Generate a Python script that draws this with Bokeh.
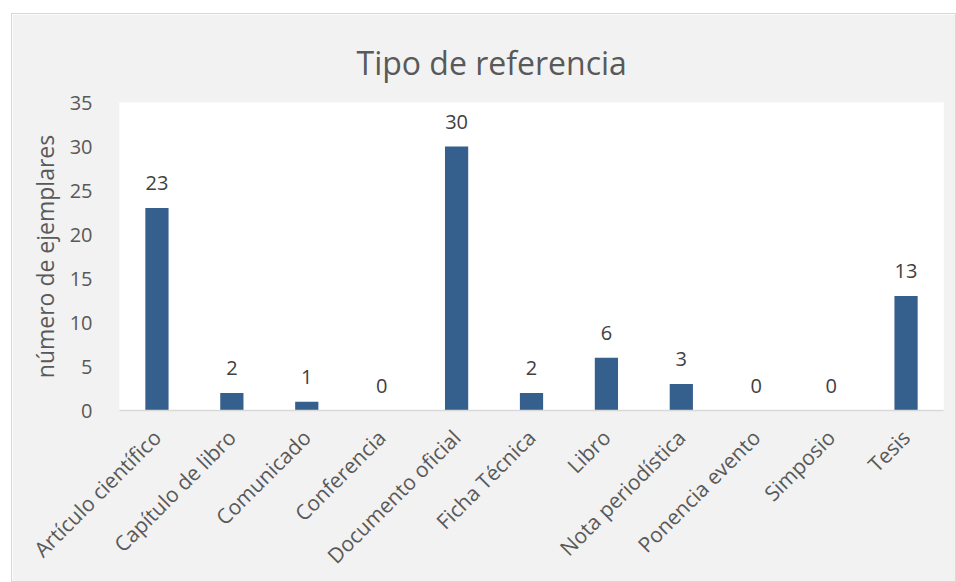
import math
from bokeh.plotting import figure
from bokeh.models import ColumnDataSource, FactorRange, Range1d, Spacer, LabelSet, FixedTicker
from bokeh.layouts import column, row
from bokeh.core.properties import value
from bokeh.embed import file_html
from bokeh.resources import INLINE

categories = ["Artículo científico", "Capítulo de libro", "Comunicado", "Conferencia",
              "Documento oficial", "Ficha Técnica", "Libro", "Nota periodística",
              "Ponencia evento", "Simposio", "Tesis"]
values = [23, 2, 1, 0, 30, 2, 6, 3, 0, 0, 13]
y_ticks = [0, 5, 10, 15, 20, 25, 30, 35]

FONT = "Open Sans"

src = ColumnDataSource(data=dict(cat=categories, val=values, lab=[str(v) for v in values]))

p = figure(x_range=FactorRange(*categories, range_padding=0),
           y_range=Range1d(0, 35),
           width=945, height=569, output_backend="svg", toolbar_location=None,
           min_border_left=107, min_border_right=14, min_border_top=88, min_border_bottom=173)

p.vbar(x="cat", top="val", width=0.31, source=src, fill_color="#355F8D", line_color=None)

labels = LabelSet(x="cat", y="val", text="lab", source=src, text_align="center",
                  text_baseline="bottom", y_offset=18, text_font=value(FONT),
                  text_font_size="20px", text_color="#404040")
p.add_layout(labels)

p.background_fill_color = "white"
p.border_fill_color = "#F2F2F2"
p.outline_line_color = None
p.grid.visible = False
p.styles = {"border": "1px solid #D9D9D9", "box-sizing": "border-box"}

p.title.text = "Tipo de referencia"
p.title.text_font = FONT
p.title.text_font_size = "32px"
p.title.text_font_style = "normal"
p.title.text_color = "#595959"
p.title.align = "left"
p.title.offset = 237
p.title.standoff = 37

ya = p.yaxis[0]
ya.ticker = FixedTicker(ticks=y_ticks)
ya.axis_line_color = None
ya.major_tick_line_color = None
ya.minor_tick_line_color = None
ya.major_label_text_font = FONT
ya.major_label_text_font_size = "20px"
ya.major_label_text_color = "#595959"
ya.major_label_standoff = 21
ya.axis_label = "número de ejemplares"
ya.axis_label_text_font = FONT
ya.axis_label_text_font_size = "23px"
ya.axis_label_text_font_style = "normal"
ya.axis_label_text_color = "#595959"
ya.axis_label_standoff = 6

xa = p.xaxis[0]
xa.axis_line_color = "#D9D9D9"
xa.axis_line_width = 1.5
xa.major_tick_line_color = None
xa.minor_tick_line_color = None
xa.major_label_orientation = math.pi / 4
xa.major_label_text_font = FONT
xa.major_label_text_font_size = "21px"
xa.major_label_text_color = "#595959"
xa.major_label_standoff = 17

layout = column(Spacer(height=13), row(Spacer(width=11), p))

open("out.html", "w").write(file_html(layout, INLINE))
